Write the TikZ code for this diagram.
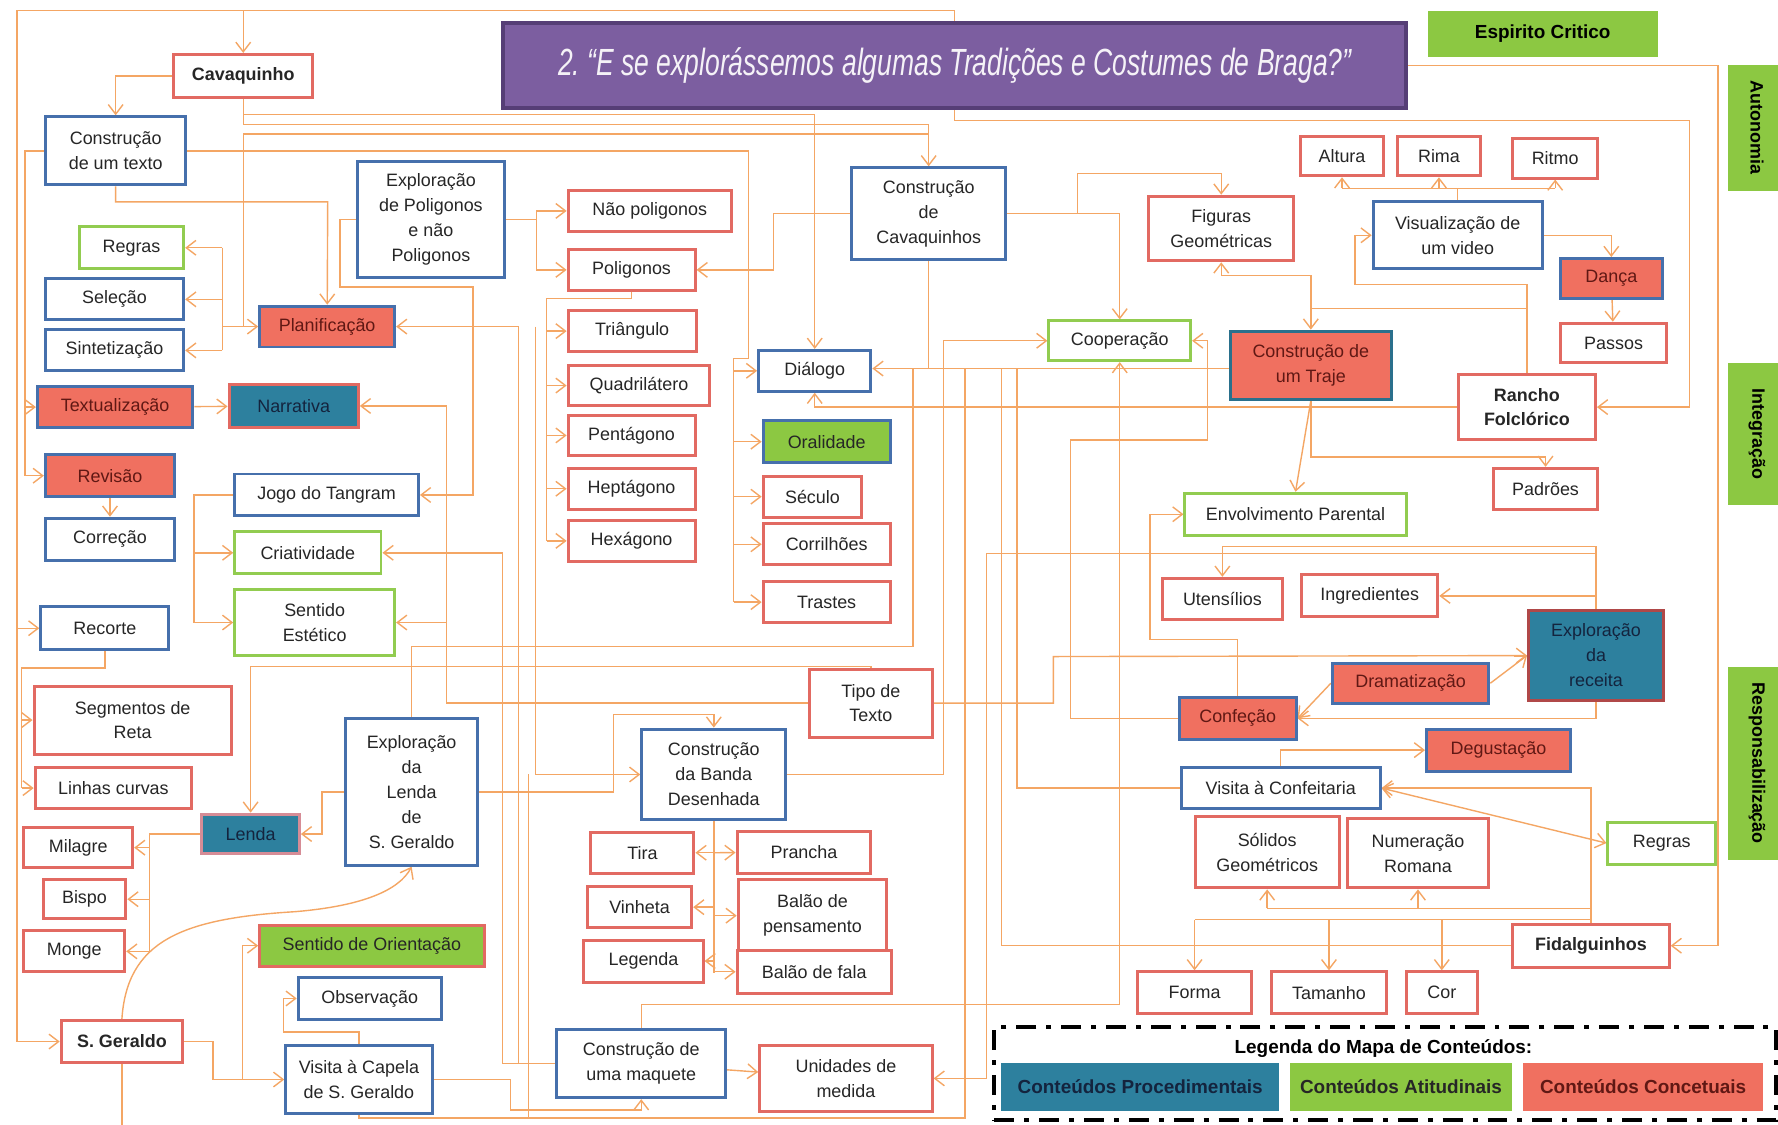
\documentclass[tikz,border=0pt]{standalone}
\usepackage{fontspec}
\setmainfont{Liberation Sans}
\usepackage{graphicx}
\usetikzlibrary{arrows.meta,backgrounds,positioning}

\definecolor{bRed}{RGB}{226,106,98}
\definecolor{bBlue}{RGB}{70,112,172}
\definecolor{bGreen}{RGB}{146,204,80}
\definecolor{bTeal}{RGB}{42,112,140}
\definecolor{bWine}{RGB}{176,72,72}
\definecolor{bMauve}{RGB}{214,140,150}
\definecolor{fRed}{RGB}{240,112,96}
\definecolor{fTeal}{RGB}{45,128,158}
\definecolor{fGreen}{RGB}{140,200,66}
\definecolor{tRed}{RGB}{96,24,20}
\definecolor{tNavy}{RGB}{20,36,62}
\definecolor{lOrange}{RGB}{244,166,100}
\definecolor{pFill}{RGB}{124,94,160}
\definecolor{pBorder}{RGB}{86,62,118}

\newcommand{\mapfont}{\fontsize{9}{12.5}\selectfont}

% box from its corners (x1,y1) (x2,y2)
\newcommand{\mapnode}[7]{%
  \node[#1, minimum width={(#5-#3)*0.02cm}, minimum height={(#6-#4)*0.02cm}]
    (#2) at ({(#3+#5)/2},{(#4+#6)/2}) {#7};}

\tikzset{
  mbox/.style     = {draw, line width=1.5pt, fill=white, align=center,
                     inner sep=1pt, font=\mapfont, text=black!85},
  conc/.style     = {mbox, draw=bRed},
  proc/.style     = {mbox, draw=bBlue},
  atit/.style     = {mbox, draw=bGreen},
  procC/.style    = {mbox, draw=bBlue, fill=fRed, text=tRed},
  concP/.style    = {mbox, draw=bRed, fill=fTeal, text=tNavy},
  procA/.style    = {mbox, draw=bBlue, fill=fGreen},
  concA/.style    = {mbox, draw=bRed, fill=fGreen},
  boldtext/.style = {font=\mapfont\bfseries},
  titlebox/.style = {draw=pBorder, line width=2pt, fill=pFill, text=white!92!pFill},
  sidebox/.style  = {fill=fGreen, rotate=-90, inner sep=0pt,
                     font=\fontsize{9}{11}\selectfont\bfseries},
  legitem/.style  = {fill=#1, inner sep=0pt, font=\fontsize{9.5}{11}\selectfont\bfseries},
  legframe/.style = {draw=black, line width=2pt,
                     dash pattern=on 10pt off 5pt on 2.5pt off 5pt},
  conn/.style     = {draw=lOrange, line width=0.7pt},
  arr/.style      = {conn, -{Straight Barb[length=1.7mm,width=2.6mm]}},
  arrs/.style     = {conn, {Straight Barb[length=1.7mm,width=2.6mm]}-{Straight Barb[length=1.7mm,width=2.6mm]}},
}

\begin{document}
\begin{tikzpicture}[x=0.02cm, y=-0.02cm]
  \useasboundingbox (0,0) rectangle (1568,992);

  % title and attitudes
  \mapnode{titlebox}{title}{444}{20}{1240}{95}{\scalebox{0.70}[1]{\fontsize{19}{22}\selectfont\itshape 2.\ “E se explorássemos algumas Tradições e Costumes de Braga?”}}
  \mapnode{fill=fGreen, font=\fontsize{9.5}{11}\selectfont\bfseries}{espirito}{1259}{10}{1462}{50}{Espirito Critico}
  \node[sidebox, minimum width=2.22cm, minimum height=1.02cm] (autonomia) at (1549.5,112.5) {Autonomia};
  \node[sidebox, minimum width=2.5cm,  minimum height=1.02cm] (integracao) at (1549.5,382.5) {Integração};
  \node[sidebox, minimum width=3.4cm,  minimum height=1.02cm] (respons) at (1549.5,673) {Responsabilização};

  % left part
  \mapnode{conc, boldtext}{cavaq}{153}{48}{276}{86}{Cavaquinho}
  \mapnode{proc}{ctexto}{40}{103}{164}{163}{Construção\\de um texto}
  \mapnode{atit}{regrasL}{70}{200}{162}{237}{Regras}
  \mapnode{proc}{selecao}{40}{246}{162}{282}{Seleção}
  \mapnode{proc}{sintet}{40}{291}{162}{327}{Sintetização}
  \mapnode{procC}{planif}{229}{270}{348}{306}{Planificação}
  \mapnode{procC}{textual}{33}{341}{170}{377}{Textualização}
  \mapnode{concP}{narr}{202}{339}{316}{377}{Narrativa}
  \mapnode{procC}{revisao}{40}{401}{154}{438}{Revisão}
  \mapnode{proc}{correcao}{40}{457}{154}{494}{Correção}
  \mapnode{proc}{tangram}{207}{418}{369}{455}{Jogo do Tangram}
  \mapnode{atit}{criat}{207}{469}{336}{506}{Criatividade}
  \mapnode{atit}{estetico}{207}{520}{348}{578}{Sentido\\Estético}
  \mapnode{proc}{recorte}{36}{535}{149}{573}{Recorte}
  \mapnode{conc}{segm}{30}{605}{204}{665}{Segmentos de\\Reta}
  \mapnode{conc}{linhas}{31}{677}{169}{713}{Linhas curvas}
  \mapnode{concP, draw=bMauve}{lenda}{178}{718}{264}{753}{Lenda}
  \mapnode{conc}{milagre}{21}{730}{117}{765}{Milagre}
  \mapnode{conc}{bispo}{38}{776}{111}{810}{Bispo}
  \mapnode{conc}{monge}{21}{821}{110}{857}{Monge}
  \mapnode{proc}{expLenda}{305}{634}{421}{763}{Exploração\\da\\Lenda\\de\\S. Geraldo}
  \mapnode{concA}{orient}{229}{816}{427}{852}{Sentido de Orientação}
  \mapnode{proc}{observ}{263}{862}{389}{899}{Observação}
  \mapnode{conc, boldtext}{sgeraldo}{54}{900}{161}{937}{S. Geraldo}
  \mapnode{proc}{capela}{252}{922}{381}{982}{Visita à Capela\\de S. Geraldo}

  % middle part
  \mapnode{proc}{expPol}{315}{142}{445}{245}{Exploração\\de Poligonos\\e não\\Poligonos}
  \mapnode{conc}{naoPol}{501}{168}{645}{204}{Não poligonos}
  \mapnode{conc}{pol}{501}{220}{613}{256}{Poligonos}
  \mapnode{conc}{triang}{501}{274}{614}{310}{Triângulo}
  \mapnode{conc}{quadri}{501}{322}{626}{358}{Quadrilátero}
  \mapnode{conc}{penta}{501}{366}{613}{402}{Pentágono}
  \mapnode{conc}{hepta}{501}{413}{613}{449}{Heptágono}
  \mapnode{conc}{hexa}{501}{459}{613}{495}{Hexágono}
  \mapnode{proc}{cavCons}{751}{148}{887}{229}{Construção\\de\\Cavaquinhos}
  \mapnode{proc}{dialogo}{669}{309}{768}{345}{Diálogo}
  \mapnode{procA}{oral}{673}{371}{785}{408}{Oralidade}
  \mapnode{conc}{seculo}{673}{420}{760}{456}{Século}
  \mapnode{conc}{corri}{673}{462}{785}{498}{Corrilhões}
  \mapnode{conc}{trastes}{673}{513}{785}{549}{Trastes}
  \mapnode{conc}{tipo}{714}{590}{822}{650}{Tipo de\\Texto}
  \mapnode{proc}{bd}{566}{643}{693}{723}{Construção\\da Banda\\Desenhada}
  \mapnode{conc}{tira}{521}{734}{612}{770}{Tira}
  \mapnode{conc}{prancha}{650}{733}{768}{770}{Prancha}
  \mapnode{conc}{vinheta}{518}{782}{610}{818}{Vinheta}
  \mapnode{conc}{balaoP}{651}{776}{782}{839}{Balão de\\pensamento}
  \mapnode{conc}{legenda}{515}{829}{620}{866}{Legenda}
  \mapnode{conc}{balaoF}{650}{838}{786}{876}{Balão de fala}
  \mapnode{proc}{maquete}{491}{908}{640}{968}{Construção de\\uma maquete}
  \mapnode{conc}{unidades}{670}{922}{822}{980}{Unidades de\\medida}

  % right part
  \mapnode{atit}{coop}{925}{283}{1050}{318}{Cooperação}
  \mapnode{conc}{figuras}{1013}{173}{1141}{230}{Figuras\\Geométricas}
  \mapnode{conc}{altura}{1147}{120}{1220}{155}{Altura}
  \mapnode{conc}{rima}{1232}{120}{1306}{155}{Rima}
  \mapnode{conc}{ritmo}{1334}{122}{1409}{157}{Ritmo}
  \mapnode{proc}{video}{1211}{178}{1360}{237}{Visualização de\\um video}
  \mapnode{procC}{danca}{1376}{228}{1466}{263}{Dança}
  \mapnode{conc}{passos}{1376}{285}{1470}{320}{Passos}
  \mapnode{procC, draw=bTeal}{traje}{1085}{292}{1227}{352}{Construção de\\um Traje}
  \mapnode{conc, boldtext}{rancho}{1286}{330}{1407}{388}{Rancho\\Folclórico}
  \mapnode{conc}{padroes}{1317}{413}{1409}{449}{Padrões}
  \mapnode{atit}{envolv}{1045}{435}{1240}{472}{Envolvimento Parental}
  \mapnode{conc}{utens}{1025}{510}{1131}{546}{Utensílios}
  \mapnode{conc}{ingred}{1148}{507}{1268}{544}{Ingredientes}
  \mapnode{concP, draw=bWine}{receita}{1348}{538}{1467}{618}{Exploração\\da\\receita}
  \mapnode{procC}{dramat}{1175}{585}{1313}{620}{Dramatização}
  \mapnode{procC}{confecao}{1040}{615}{1143}{652}{Confeção}
  \mapnode{procC}{degust}{1258}{643}{1385}{680}{Degustação}
  \mapnode{proc}{confeit}{1042}{677}{1217}{713}{Visita à Confeitaria}
  \mapnode{atit}{regrasR}{1418}{725}{1513}{762}{Regras}
  \mapnode{conc}{solidos}{1054}{720}{1181}{783}{Sólidos\\Geométricos}
  \mapnode{conc}{numer}{1188}{722}{1313}{783}{Numeração\\Romana}
  \mapnode{conc, boldtext}{fidal}{1334}{815}{1472}{853}{Fidalguinhos}
  \mapnode{conc}{forma}{1003}{857}{1104}{894}{Forma}
  \mapnode{conc}{tamanho}{1121}{857}{1223}{894}{Tamanho}
  \mapnode{conc}{cor}{1240}{857}{1303}{894}{Cor}

  % legend
  \mapnode{legframe}{legbox}{877}{906}{1566}{988}{}
  \node[font=\fontsize{9.5}{11}\selectfont\bfseries] (legtitle) at (1220,925) {Legenda do Mapa de Conteúdos:};
  \mapnode{legitem=fTeal, text=tNavy}{legProc}{883}{937}{1128}{980}{Conteúdos Procedimentais}
  \mapnode{legitem=fGreen, text=black!85}{legAtit}{1138}{937}{1333}{980}{Conteúdos Atitudinais}
  \mapnode{legitem=fRed, text=tRed}{legConc}{1343}{937}{1555}{980}{Conteúdos Concetuais}

  % connectors
  \begin{scope}[on background layer]
    \fill[white] (0,0) rectangle (1568,992);

    % outer frame and left side
    \draw[arr] (title.north) |- (15,9) |- (sgeraldo);
    \draw[arr] (214.5,9) -- (cavaq);
    \draw[arr] (15,554) -- (recorte);
    \draw[arr] (title) -| (1515,834) -- (fidal);
    \draw[arr] (title) |- (1490,106) |- (rancho);
    \draw[arr] (cavaq) -| (ctexto);
    \draw[conn] (ctexto) -| (22,419.5);
    \draw[arr] (22,359) -- (textual);
    \draw[arr] (22,419.5) -- (revisao);
    \draw[arr] (textual) -- (narr);
    \draw[arr] (revisao) -- (correcao);
    \draw[conn] (recorte) |- (19,589) -- (19,695);
    \draw[arr] (19,635) -- (segm);
    \draw[arr] (19,695) -- (linhas);

    % Cavaquinho
    \draw[arr] (cavaq) |- (718.5,101) -- (dialogo);
    \draw[arr] (cavaq) |- (819,110) -- (cavCons);
    \draw[arr] (cavCons.north) |- (214.5,118) |- (planif);
    \draw[conn] (196,218.5) -- (196,309);
    \draw[conn] (196,288) -- (214.5,288);
    \draw[arr] (196,218.5) -- (regrasL);
    \draw[arr] (196,264) -- (selecao);
    \draw[arr] (196,309) -- (sintet);
    \draw[arr] (ctexto) |- (289,178) -- (planif);
    \draw[conn] (ctexto) -| (660,316) -| (647,531);
    \draw[arr] (647,327) -- (dialogo);
    \draw[arr] (647,389.5) -- (oral);
    \draw[arr] (647,438) -- (seculo);
    \draw[arr] (647,480) -- (corri);
    \draw[arr] (647,531) -- (trastes);

    % polygons
    \draw[conn] (expPol) -- (473,193.5);
    \draw[conn] (473,186) -- (473,238);
    \draw[arr] (473,186) -- (naoPol);
    \draw[arr] (473,238) -- (pol);
    \draw[arr] (expPol) -| (300,253) -| (417,436.5) -- (tangram);
    \draw[arr] (cavCons) -| (682,238) -- (pol);
    \draw[conn] (pol) |- (482,263) -- (482,477);
    \foreach \n/\y in {triang/292, quadri/340, penta/384, hepta/431, hexa/477}
      \draw[arr] (482,\y) -- (\n);

    % maquete, tangram, text type
    \draw[arr] (maquete) -| (457,288) -- (planif);
    \draw[arr] (maquete) -| (443,487.5) -- (criat);
    \draw[arr] (472,288) |- (bd);
    \draw[conn] (466,683) -- (466,986);
    \draw[arr] (tipo) -| (394,358) -- (narr);
    \draw[arr] (394,549) -- (estetico);
    \draw[conn] (tangram) -| (171,549);
    \draw[arr] (171,487.5) -- (criat);
    \draw[arr] (171,549) -- (estetico);

    % legend of S. Geraldo
    \draw[arr] (tipo) |- (221,588) -- (lenda);
    \draw[arr] (expLenda) -| (284,735.5) -- (lenda);
    \draw[conn] (lenda) -| (132,839);
    \draw[arr] (132,747.5) -- (milagre);
    \draw[arr] (132,793) -- (bispo);
    \draw[arr] (132,839) -- (monge);
    \draw[arr] (sgeraldo.north) .. controls (112,830) and (160,810) .. (260,804)
                                .. controls (320,799) and (352,785) .. (expLenda.south);
    \draw[arr] (sgeraldo) -| (188,952) -- (capela);
    \draw[arr] (214,952) |- (orient);
    \draw[arr] (capela) |- (250,910) |- (observ);
    \draw[conn] (sgeraldo) -- (107.5,992);
    \draw[arr] (capela) -| (450,979) -| (maquete);
    \draw[arr] (maquete) -- (unidades);

    % comic strip
    \draw[arr] (expLenda) -| (541,630) -| (bd);
    \draw[conn] (bd) -- (629.5,858);
    \foreach \n/\y in {tira/752, prancha/752, vinheta/800, balaoP/807.5, legenda/847.5, balaoF/857}
      \draw[arr] (629.5,\y) -- (\n);

    % dialogue bus
    \draw[arr] (traje.west |- 0,325) -- (dialogo.east |- 0,325);
    \draw[conn] (capela) |- (851,986) -- (851,325);
    \draw[conn] (expLenda) |- (805,570) -- (805,325);
    \draw[conn] (cavCons) -- (819,325);
    \draw[conn] (fidal) -| (883,325);
    \draw[conn] (confeit) -| (897,325);
    \draw[arr] (rancho) -| (dialogo);
    \draw[arr] (bd) -| (832,300.5) -- (coop);

    % cooperation and costume
    \draw[arr] (cavCons) -| (coop);
    \draw[arr] (950,188.5) |- (1077,153) -- (figuras);
    \draw[arr] (confecao) -| (944,388) -| (1065,300.5) -- (coop);
    \draw[arr] (maquete) |- (987.5,886) -- (coop);
    \draw[arr] (rancho) |- (1195,251) |- (video);
    \draw[arr] (1346.5,272) -| (traje);
    \draw[arr] (1156,272) |- (1077,243) -- (figuras);
    \draw[conn] (video) |- (1183.5,166) -- (1371.5,166);
    \draw[arr] (1183.5,166) -- (altura);
    \draw[arr] (1269,166) -- (rima);
    \draw[arr] (1371.5,166) -- (ritmo);
    \draw[arr] (video) -| (danca);
    \draw[arr] (danca) -- (passos);
    \draw[arr] (traje.south) -- (envolv.north);
    \draw[arr] (traje) |- (1363,403) -- (padroes);

    % recipe
    \draw[arr] (confecao) |- (1014,564) |- (envolv);
    \draw[arr] (receita) |- (1078,482) -- (utens);
    \draw[arr] (1407.5,525.5) -- (ingred);
    \draw[arr] (1407.5,488) -| (870,951) -- (unidades);
    \draw[arr] (tipo) -| (929,579) -- (receita);
    \draw[arr] (dramat.east) -- (receita.west);
    \draw[arr] (dramat.west) -- (confecao.east);
    \draw[arr] (receita) |- (confecao);
    \draw[arr] (confeit) |- (degust);
    \draw[arrs] (confeit.east) -- (regrasR.west);

    % Fidalguinhos
    \draw[arr] (fidal) |- (confeit);
    \draw[conn] (fidal) |- (1117.5,801);
    \draw[arr] (1117.5,801) -- (solidos);
    \draw[arr] (1250.5,801) -- (numer);
    \draw[conn] (1403,811) -- (1053.5,811);
    \draw[arr] (1053.5,811) -- (forma);
    \draw[arr] (1172,811) -- (tamanho);
    \draw[arr] (1271.5,811) -- (cor);
  \end{scope}
\end{tikzpicture}
\end{document}
